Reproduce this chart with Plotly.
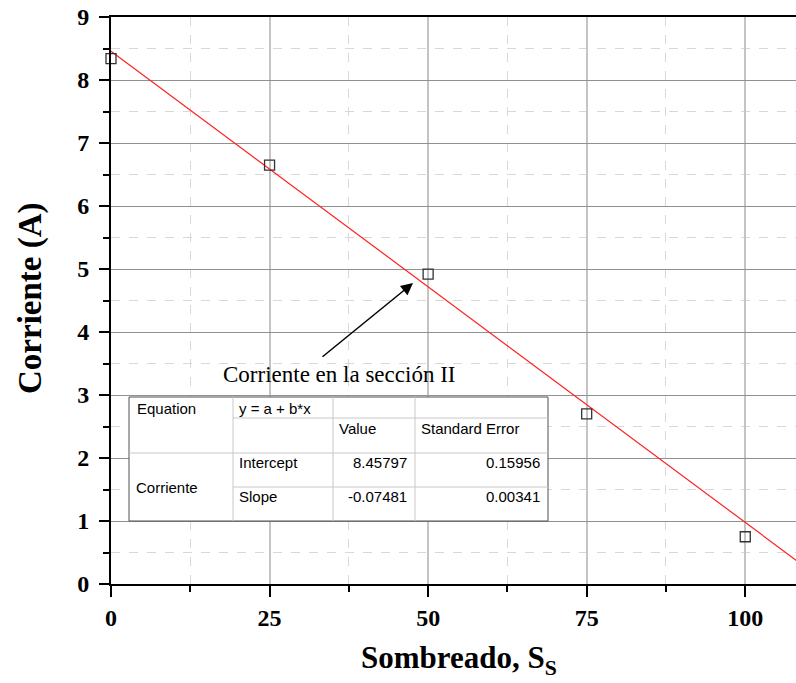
import plotly.graph_objects as go

# measured data
sombreado = [0, 25, 50, 75, 100]
corriente = [8.34, 6.65, 4.92, 2.70, 0.75]

# linear fit results (as reported in the table)
intercept = 8.45797
slope = -0.07481
intercept_err = 0.15956
slope_err = 0.00341
fit_x = [0, 110]
fit_y = [intercept + slope * x for x in fit_x]

x_ticks = [0, 25, 50, 75, 100]
y_ticks = list(range(0, 10))

SERIF = "Liberation Serif, Times New Roman, serif"
SANS = "Liberation Sans, Arial, sans-serif"

# plot area in pixels: left 111, top 17, right 796, bottom 584
def px_x(px):
    return (px - 111) / 685

def px_y(py):
    return (584 - py) / 567


fig = go.Figure()

fig.add_trace(go.Scatter(
    x=fit_x, y=fit_y, mode="lines",
    line=dict(color="#ff2020", width=1.2),
    showlegend=False, hoverinfo="skip",
))
fig.add_trace(go.Scatter(
    x=sombreado, y=corriente, mode="markers",
    marker=dict(symbol="square-open", size=10, color="#333333", line=dict(width=1.3)),
    showlegend=False, cliponaxis=False,
))

fig.update_xaxes(
    range=[0, 108], tickvals=x_ticks,
    showline=True, linecolor="black", linewidth=2, mirror=True,
    ticks="outside", ticklen=11, tickwidth=2, tickcolor="black",
    showgrid=True, gridcolor="#c4c4c4", gridwidth=2,
    minor=dict(dtick=12.5, ticks="outside", ticklen=6, tickwidth=1.5, tickcolor="black",
               showgrid=True, gridcolor="#d8d8d8", griddash="dash", gridwidth=1),
    tickfont=dict(family=SERIF, size=24, color="black", weight="bold"),
    zeroline=False,
)
fig.update_yaxes(
    range=[0, 9], tickvals=y_ticks,
    showline=True, linecolor="black", linewidth=2,
    ticks="outside", ticklen=10, tickwidth=2, tickcolor="black",
    ticklabelstandoff=5,
    showgrid=True, gridcolor="#909090", gridwidth=1,
    minor=dict(dtick=0.5, ticks="outside", ticklen=6, tickwidth=1.5, tickcolor="black",
               showgrid=True, gridcolor="#d8d8d8", griddash="dash", gridwidth=1),
    tickfont=dict(family=SERIF, size=24, color="black", weight="bold"),
    zeroline=False,
)

shapes = []
annotations = []

# fit table box
tx0, tx1, ty0, ty1 = 129, 548, 397, 521
shapes.append(dict(type="rect", xref="paper", yref="paper",
                   x0=px_x(tx0), x1=px_x(tx1), y0=px_y(ty1), y1=px_y(ty0),
                   fillcolor="white", line=dict(color="#505050", width=1), layer="above"))
inner = dict(color="#c8c8c8", width=1)
for vx in [233, 333, 415]:
    shapes.append(dict(type="line", xref="paper", yref="paper",
                       x0=px_x(vx), x1=px_x(vx), y0=px_y(ty1), y1=px_y(ty0),
                       line=inner, layer="above"))
for hy, hx0 in [(418, 233), (453, tx0), (487, 233)]:
    shapes.append(dict(type="line", xref="paper", yref="paper",
                       x0=px_x(hx0), x1=px_x(tx1), y0=px_y(hy), y1=px_y(hy),
                       line=inner, layer="above"))

table_cells = [
    ("Equation", 135, 408, "left"),
    ("y = a + b*x", 237, 408, "left"),
    ("Value", 337, 428, "left"),
    ("Standard Error", 419, 428, "left"),
    ("Intercept", 237, 462, "left"),
    (f"{intercept:.5f}", 409, 462, "right"),
    (f"{intercept_err:.5f}", 542, 462, "right"),
    ("Corriente", 134, 487, "left"),
    ("Slope", 237, 496, "left"),
    (f"{slope:.5f}", 409, 496, "right"),
    (f"{slope_err:.5f}", 542, 496, "right"),
]
for text, cx, cy, anchor in table_cells:
    annotations.append(dict(text=text, xref="paper", yref="paper",
                            x=px_x(cx), y=px_y(cy), xanchor=anchor, yanchor="middle",
                            showarrow=False, font=dict(family=SANS, size=15, color="black")))

# arrow + label
annotations.append(dict(text="", xref="paper", yref="paper", axref="pixel", ayref="pixel",
                        x=px_x(413), y=px_y(283), ax=-92, ay=75,
                        showarrow=True, arrowhead=2, arrowsize=1.6, arrowwidth=1.5,
                        arrowcolor="black"))
annotations.append(dict(text="Corriente en la sección II", xref="paper", yref="paper",
                        x=px_x(339), y=px_y(374), xanchor="center", yanchor="middle",
                        showarrow=False, font=dict(family=SERIF, size=23, color="black")))

# axis titles
annotations.append(dict(text="Corriente (A)", xref="paper", yref="paper",
                        x=px_x(30), y=px_y(298), xanchor="center", yanchor="middle",
                        textangle=-90, showarrow=False,
                        font=dict(family=SERIF, size=33, color="black", weight="bold")))
annotations.append(dict(text="Sombreado, S<sub>S</sub>", xref="paper", yref="paper",
                        x=px_x(459), y=px_y(660), xanchor="center", yanchor="middle",
                        showarrow=False,
                        font=dict(family=SERIF, size=31, color="black", weight="bold")))

fig.update_layout(
    width=796, height=683,
    margin=dict(l=111, r=0, t=17, b=99),
    plot_bgcolor="white", paper_bgcolor="white",
    shapes=shapes, annotations=annotations,
    showlegend=False,
)

# drop the default page margin so the figure sits at the window's corner
fig.write_html("out.html", config={"displayModeBar": False},
               post_script="document.body.style.margin = '0';")
